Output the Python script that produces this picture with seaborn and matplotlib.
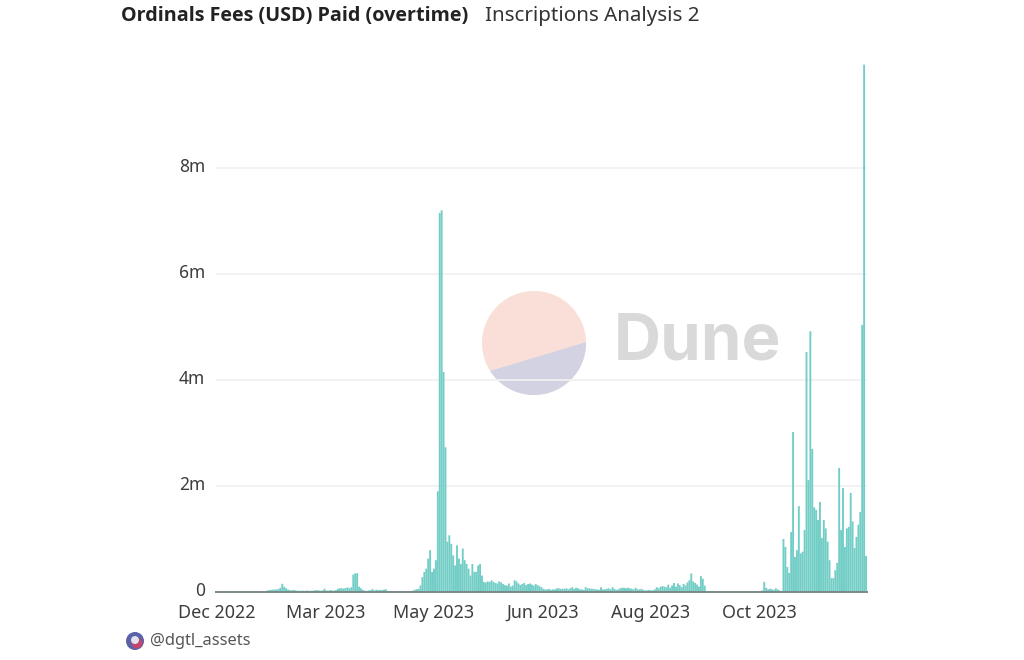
import numpy as np
import pandas as pd
import seaborn as sns
import matplotlib.pyplot as plt
from matplotlib.patches import Circle, Polygon
from matplotlib.transforms import ScaledTranslation

# daily fees in USD millions
quiet_start = [.003, .002, .003, .002, .002, .003, .002, .003, .003, .002,
               .003, .002, .002, .003, .003, .002, .003, .004, .003, .003,
               .004, .003, .004, .005, .006]
early_months = [.015, .025, .035, .04, .045, .045, .05, .055, .08, .155,
                .10, .07, .045, .035, .03, .04, .03, .025, .02, .025,
                .025, .02, .03, .02, .025, .025, .03, .035, .03, .025,
                .03, .06, .03, .025, .035, .03, .025, .035, .06, .07,
                .07, .065, .075, .085, .07, .09, .33, .35, .355, .10,
                .07, .04, .025, .02, .03, .035, .055, .03, .045, .035,
                .04, .035, .045, .05, .02, .015, .02, .015, .01, .015,
                .01, .012, .01, .015, .02, .012, .018, .025, .04, .055]
may_spike = [.06, .125, .28, .38, .44, .63, .79, .38, .44, .60,
             1.9, 7.15, 7.2, 4.15, 2.73]
may_tail = [.95, 1.07, .91, .69, .5, .88, .63, .53, .82, .6,
            .53, .44, .31, .53, .38, .38, .5, .53, .31, .19,
            .18, .2, .19, .22, .19, .17, .16, .2, .18, .15,
            .13, .12, .16, .1, .12, .22, .2, .16, .13, .15,
            .17, .13, .15, .16, .14, .12, .15, .13]
summer = [.11, .09, .06, .05, .05, .06, .04, .05, .05, .07,
          .07, .06, .06, .06, .07, .05, .07, .09, .06, .08,
          .07, .05, .05, .04, .09, .07, .07, .06, .06, .05,
          .05, .04, .09, .05, .05, .06, .07, .05, .09, .06,
          .04, .05, .07, .08, .08, .07, .08, .07, .06, .05,
          .08, .05, .05, .06, .04, .03, .03, .04, .03, .03,
          .05, .09, .07, .10, .11, .10, .09, .14, .08, .12,
          .17, .10, .16, .13, .09, .15, .12, .18, .22, .35,
          .20, .17, .14, .10, .30, .25, .12]
sept_lull = [.02, .015, .012, .01, .012, .01, .008, .01, .012, .01,
             .008, .01, .009, .008, .01, .012, .01, .008, .009, .01,
             .008, .01, .012, .01, .009, .008, .01, .012, .015, .03,
             .19, .08, .05, .06, .05, .04, .07, .05, .03, .02]
autumn = [1.0, .85, .47, .36, 1.13, 3.02, .66, .79, 1.62, .73,
          .76, 1.17, 4.53, 2.11, 4.92, 2.7, 1.6, 1.55, 1.36, 1.7,
          1.02, 1.36, 1.2, .95, .6, .26, .26, .41, .55, 2.34,
          1.17, 1.96, .85, 1.2, 1.23, 1.87, 1.33, .83, 1.04, 1.27,
          1.51, 5.04, 9.95, .68]

date_labels = ['Dec 2022', 'Mar 2023', 'May 2023', 'Jun 2023', 'Aug 2023', 'Oct 2023']
y_ticks = [0, 2, 4, 6, 8]
y_labels = ['0', '2m', '4m', '6m', '8m']

fees = quiet_start + early_months + may_spike + may_tail + summer + sept_lull + autumn
df = pd.DataFrame({'day': range(len(fees)), 'fees': fees})

sns.set_theme(style='white')
plt.rcParams['font.family'] = ['Noto Sans', 'DejaVu Sans']

fig = plt.figure(figsize=(10.24, 6.6), dpi=100)
ax = fig.add_axes([216 / 1024, 68 / 660, 651 / 1024, 542 / 660])

# watermark sits under the bars, in pixel coordinates of the whole figure
bg = fig.add_axes([0, 0, 1, 1], zorder=0)
bg.set_xlim(0, 1024)
bg.set_ylim(660, 0)
bg.axis('off')
ax.set_zorder(1)
ax.patch.set_alpha(0)

upper = Circle((534, 343), 52, fc='#f9dfd7', ec='none')
lower = Circle((534, 343), 52, fc='#d2d2e2', ec='none')
bg.add_patch(upper)
bg.add_patch(lower)
lower.set_clip_path(Polygon([(470, 377), (600, 338), (600, 410), (470, 410)], transform=bg.transData))
bg.text(614, 342, 'Dune', fontsize=47, fontweight='bold', color='#d9d9d9',
        family='Inter', va='center', ha='left')

sns.barplot(data=df, x='day', y='fees', color='#71cdc5', saturation=1, width=0.98,
            linewidth=0, ax=ax, zorder=3)
for bar in ax.patches:
    bar.set_snap(False)

ax.set_xlim(-0.5, len(fees) - 0.5)
ax.set_ylim(0, 542 / 53)
ax.set_xlabel('')
ax.set_ylabel('')
ax.set_yticks(y_ticks)
ax.set_yticklabels(y_labels, fontsize=12.5, color='#3d3d3d')
ax.set_xticks(np.arange(6) * 56.5)
ax.set_xticklabels(date_labels, fontsize=12.9, color='#3d3d3d')
ax.tick_params(axis='both', length=0)
ax.tick_params(axis='x', pad=8.5)
ax.tick_params(axis='y', pad=8)
for label in ax.get_yticklabels():
    label.set_transform(label.get_transform() + ScaledTranslation(0, 2.5 / 100, fig.dpi_scale_trans))
ax.grid(axis='y', color='#f1f1f1', linewidth=1.3, zorder=1)
ax.set_axisbelow(True)
sns.despine(ax=ax, left=True, top=True, right=True, bottom=False)
ax.spines['bottom'].set_color('#7a8a88')
ax.spines['bottom'].set_linewidth(1.4)
ax.spines['bottom'].set_zorder(5)

bg.text(121, 16, 'Ordinals Fees (USD) Paid (overtime)', fontsize=14.2, fontweight='bold',
        family='Open Sans', color='#222222', va='center', ha='left')
bg.text(485, 16, 'Inscriptions Analysis 2', fontsize=14.8, color='#333333', va='center', ha='left')

# little avatar next to the handle
bg.add_patch(Circle((135, 641), 9, fc='#5b62a8', ec='none'))
bg.add_patch(Circle((137, 643), 5.5, fc='#c2456e', ec='none'))
bg.add_patch(Circle((135, 640), 4, fc='#dfe3ee', ec='none'))
bg.text(150, 641, '@dgtl_assets', fontsize=11.8, color='#555555', va='center', ha='left')

fig.savefig('out.png', dpi=100)
